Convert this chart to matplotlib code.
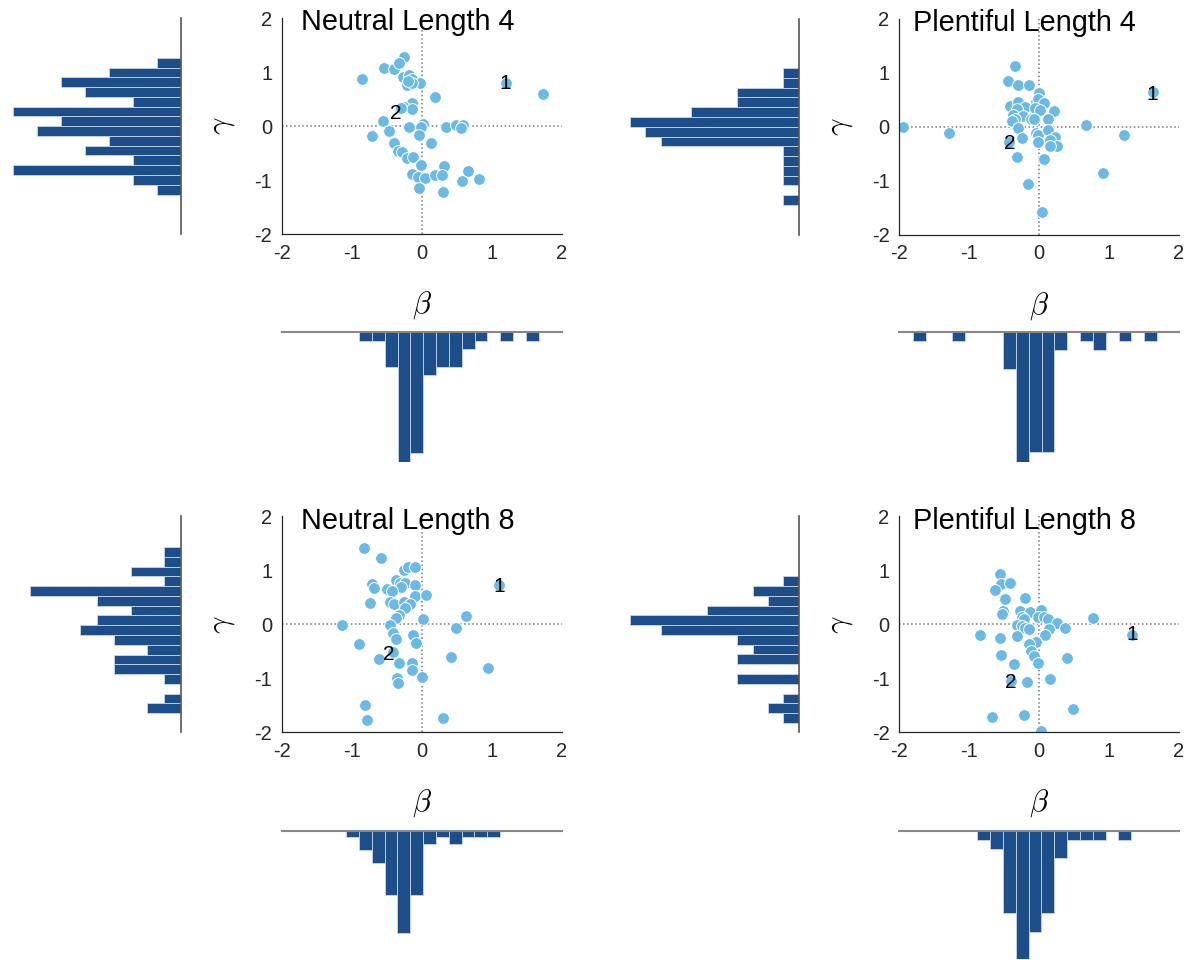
import matplotlib
matplotlib.use("Agg")
import matplotlib.pyplot as plt
import numpy as np

plt.rcParams['font.family'] = ['Liberation Sans', 'DejaVu Sans']
plt.rcParams['mathtext.fontset'] = 'cm'

titles = ["Neutral Length 4", "Plentiful Length 4", "Neutral Length 8", "Plentiful Length 8"]

# ---- scatter data (beta, gamma) ----
beta_n4 = [-0.26, -0.54, -0.40, -0.33, -0.86, -0.27, -0.19, -0.15, -0.22, -0.03, -0.14, 0.18, 1.20, 1.73,
           -0.14, -0.26, -0.32, -0.15, -0.56, -0.18, 0.02, -0.01, 0.34, 0.48, 0.58, 0.55, -0.71, -0.47,
           -0.04, 0.13, -0.40, -0.34, -0.28, -0.22, -0.13, -0.01, 0.32, 0.66, -0.14, -0.06, 0.04, 0.19,
           0.29, 0.57, 0.81, -0.05, 0.30, -0.30, -0.20]
gamma_n4 = [1.28, 1.08, 1.06, 1.16, 0.87, 0.90, 0.94, 0.87, 0.76, 0.79, 0.79, 0.54, 0.80, 0.59,
            0.42, 0.36, 0.31, 0.31, 0.10, -0.01, 0.04, -0.01, -0.02, 0.02, 0.01, -0.04, -0.18, -0.10,
            -0.17, -0.32, -0.32, -0.46, -0.48, -0.60, -0.58, -0.73, -0.74, -0.83, -0.88, -0.95, -0.97, -0.91,
            -0.90, -1.02, -0.98, -1.14, -1.23, 0.33, 0.84]

beta_p4 = [-1.95, -1.29, -0.34, -0.45, -0.30, -0.14, 0.00, 1.63, -0.42, -0.30, -0.20, -0.32, -0.04, -0.01,
           0.07, 0.21, -0.06, 0.01, -0.37, -0.23, -0.35, -0.39, -0.11, -0.08, 0.12, -0.30, 0.67, -0.05,
           -0.01, 0.12, 0.23, -0.25, 1.22, -0.01, 0.15, 0.25, 0.16, -0.43, -0.31, 0.07, 0.91, -0.16, 0.04]
gamma_p4 = [0.00, -0.11, 1.12, 0.85, 0.77, 0.77, 0.62, 0.64, 0.38, 0.46, 0.37, 0.33, 0.46, 0.52,
            0.43, 0.30, 0.34, 0.31, 0.22, 0.20, 0.15, 0.11, 0.15, 0.14, 0.15, -0.03, 0.03, -0.12,
            -0.15, -0.06, -0.19, -0.20, -0.15, -0.28, -0.25, -0.35, -0.36, -0.28, -0.56, -0.60, -0.85, -1.06, -1.58]

beta_n8 = [-0.83, -0.59, -0.26, -0.20, -0.10, -0.71, -0.69, -0.37, -0.31, -0.25, -0.30, -0.50, -0.43, -0.10,
           -0.10, 0.05, 1.10, -0.75, -0.46, -0.40, -0.26, -0.17, -0.24, -0.33, -0.37, 0.01, 0.63, -1.14,
           -0.46, -0.42, 0.48, -0.13, -0.37, -0.09, -0.90, -0.41, 0.41, -0.62, -0.33, -0.15, -0.14, 0.00,
           0.94, -0.36, -0.34, -0.82, -0.79, 0.30]
gamma_n8 = [1.41, 1.22, 1.01, 1.07, 1.07, 0.75, 0.67, 0.82, 0.77, 0.76, 0.70, 0.65, 0.62, 0.73,
            0.52, 0.54, 0.72, 0.40, 0.42, 0.38, 0.42, 0.37, 0.31, 0.17, 0.11, 0.09, 0.15, -0.01,
            -0.02, -0.17, -0.06, -0.20, -0.28, -0.34, -0.36, -0.52, -0.61, -0.65, -0.72, -0.72, -0.85, -0.97,
            -0.80, -0.99, -1.08, -1.49, -1.77, -1.73]

beta_p8 = [-0.56, -0.54, -0.41, -0.63, -0.49, -0.20, -0.52, -0.53, -0.28, -0.13, 0.02, 0.77, -0.25, -0.21,
           -0.01, 0.07, 0.13, 0.25, -0.31, -0.24, -0.20, -0.14, 0.14, 0.37, -0.85, -0.56, -0.31, 0.08,
           1.33, -0.05, -0.14, -0.12, -0.08, -0.55, 0.40, -0.01, -0.36, 0.15, -0.17, -0.40, 0.48, -0.68,
           -0.22, 0.03]
gamma_p8 = [0.94, 0.74, 0.77, 0.64, 0.47, 0.49, 0.25, 0.19, 0.25, 0.23, 0.27, 0.11, 0.14, 0.09,
            0.13, 0.14, 0.09, 0.03, -0.01, -0.03, -0.07, -0.09, -0.09, -0.06, -0.20, -0.25, -0.22, -0.19,
            -0.19, -0.32, -0.36, -0.49, -0.59, -0.56, -0.63, -0.72, -0.74, -1.01, -1.07, -1.05, -1.56, -1.72,
            -1.68, -1.98]

# ---- labelled points ("1", "2") ----
label1_pos = [(1.19, 0.79), (1.61, 0.60), (1.10, 0.70), (1.33, -0.19)]
label2_pos = [(-0.38, 0.23), (-0.42, -0.32), (-0.48, -0.56), (-0.41, -1.08)]

# ---- gamma histograms (counts from lowest bin upward) ----
gamma_hist_start = [-1.27, -1.45, -1.647, -1.825]
gamma_bin_width = 0.181
gamma_counts_n4 = [1, 2, 7, 2, 4, 3, 6, 5, 7, 2, 4, 5, 3, 1]
gamma_counts_p4 = [1, 0, 1, 1, 1, 1, 9, 10, 11, 7, 4, 4, 1, 1]
gamma_counts_n8 = [2, 1, 0, 1, 4, 4, 2, 4, 6, 5, 3, 5, 9, 1, 3, 1, 1]
gamma_counts_p8 = [1, 2, 1, 0, 4, 0, 4, 3, 4, 9, 11, 6, 2, 3, 1]
gamma_count_max = [7, 11, 10, 11]

# ---- beta histograms (counts from lowest bin upward) ----
beta_hist_start = [-0.90, -1.80, -1.086, -0.886]
beta_bin_width = 0.1835
beta_counts_n4 = [1, 1, 4, 15, 14, 5, 4, 4, 2, 1, 0, 1, 0, 1]
beta_counts_p4 = [1, 0, 0, 1, 0, 0, 0, 4, 14, 13, 13, 2, 0, 1, 2, 0, 1, 0, 1]
beta_counts_n8 = [1, 3, 5, 10, 16, 10, 2, 1, 2, 1, 1, 1]
beta_counts_p8 = [1, 2, 9, 14, 11, 9, 3, 1, 1, 1, 0, 1]
beta_count_max = [15, 14, 20, 14]

betas = [beta_n4, beta_p4, beta_n8, beta_p8]
gammas = [gamma_n4, gamma_p4, gamma_n8, gamma_p8]
gamma_counts = [gamma_counts_n4, gamma_counts_p4, gamma_counts_n8, gamma_counts_p8]
beta_counts = [beta_counts_n4, beta_counts_p4, beta_counts_n8, beta_counts_p8]

ticks = [-2, -1, 0, 1, 2]
tick_labels = ['-2', '-1', '0', '1', '2']

W, H = 1192, 960
fig = plt.figure(figsize=(W / 100, H / 100), dpi=100)


def add_ax(x0, y0, x1, y1):
    return fig.add_axes([x0 / W, 1 - y1 / H, (x1 - x0) / W, (y1 - y0) / H])


scatter_boxes = [(282, 18, 562, 234), (899.3, 18.7, 1179, 234.7),
                 (282, 516.3, 562, 732.3), (899.3, 516.3, 1179, 732.3)]
left_hist_x = [(13, 181), (630, 798.7), (13, 181), (630, 798.7)]
bottom_hist_y = [(332, 462), (331.7, 461.7), (830.7, 959), (830.7, 959)]

pt_color = '#6CB9E4'
bar_color = '#1D4E89'
bar_edge = '#C8D6E6'

for i in range(4):
    x0, y0, x1, y1 = scatter_boxes[i]
    ax = add_ax(x0, y0, x1, y1)
    ax.set_xlim(-2, 2)
    ax.set_ylim(-2, 2)
    ax.axhline(0, color='#777777', ls=':', lw=1.1, zorder=1)
    ax.axvline(0, color='#777777', ls=':', lw=1.1, zorder=1)
    ax.scatter(betas[i], gammas[i], s=72, c=pt_color, edgecolors='white', linewidths=0.7, zorder=2)
    ax.text(*label1_pos[i], '1', fontsize=15, ha='center', va='center', zorder=5)
    ax.text(*label2_pos[i], '2', fontsize=15, ha='center', va='center', zorder=5)
    for s in ['top', 'right']:
        ax.spines[s].set_visible(False)
    for s in ['left', 'bottom']:
        ax.spines[s].set_color('#262626')
        ax.spines[s].set_linewidth(0.9)
    ax.set_xticks(ticks)
    ax.set_xticklabels(tick_labels)
    ax.set_yticks(ticks)
    ax.set_yticklabels(tick_labels)
    ax.tick_params(length=0, labelsize=14.5, pad=7, colors='#262626')
    ax.patch.set_alpha(0)
    ax.text(-0.21, 1.77, titles[i], fontsize=20.8, ha='center', va='baseline', zorder=6)
    ax.text(0.5, -0.33, r'$\beta$', fontsize=22, ha='center', va='center', transform=ax.transAxes)
    ax.text(-0.213, 0.5, r'$\gamma$', fontsize=22, ha='center', va='center', rotation=90,
            transform=ax.transAxes)

    # left gamma histogram
    hx0, hx1 = left_hist_x[i]
    hax = add_ax(hx0, y0, hx1, y1)
    gc = gamma_counts[i]
    centers = gamma_hist_start[i] + gamma_bin_width * (np.arange(len(gc)) + 0.5)
    hax.barh(centers, gc, height=gamma_bin_width, color=bar_color, edgecolor=bar_edge, linewidth=0.6)
    hax.set_ylim(-2, 2)
    hax.set_xlim(gamma_count_max[i], 0)
    for s in ['top', 'left', 'bottom']:
        hax.spines[s].set_visible(False)
    hax.spines['right'].set_color('#555555')
    hax.spines['right'].set_linewidth(1.2)
    hax.set_xticks([])
    hax.set_yticks([])
    hax.patch.set_alpha(0)

    # bottom beta histogram
    by0, by1 = bottom_hist_y[i]
    bax = add_ax(x0, by0, x1, by1)
    bc = beta_counts[i]
    bcenters = beta_hist_start[i] + beta_bin_width * (np.arange(len(bc)) + 0.5)
    bax.bar(bcenters, bc, width=beta_bin_width, color=bar_color, edgecolor=bar_edge, linewidth=0.6)
    bax.set_xlim(-2, 2)
    bax.set_ylim(beta_count_max[i], 0)
    for s in ['right', 'left', 'bottom']:
        bax.spines[s].set_visible(False)
    bax.spines['top'].set_color('#888888')
    bax.spines['top'].set_linewidth(1.5)
    bax.set_xticks([])
    bax.set_yticks([])
    bax.patch.set_alpha(0)

fig.savefig('out.png', dpi=100)
